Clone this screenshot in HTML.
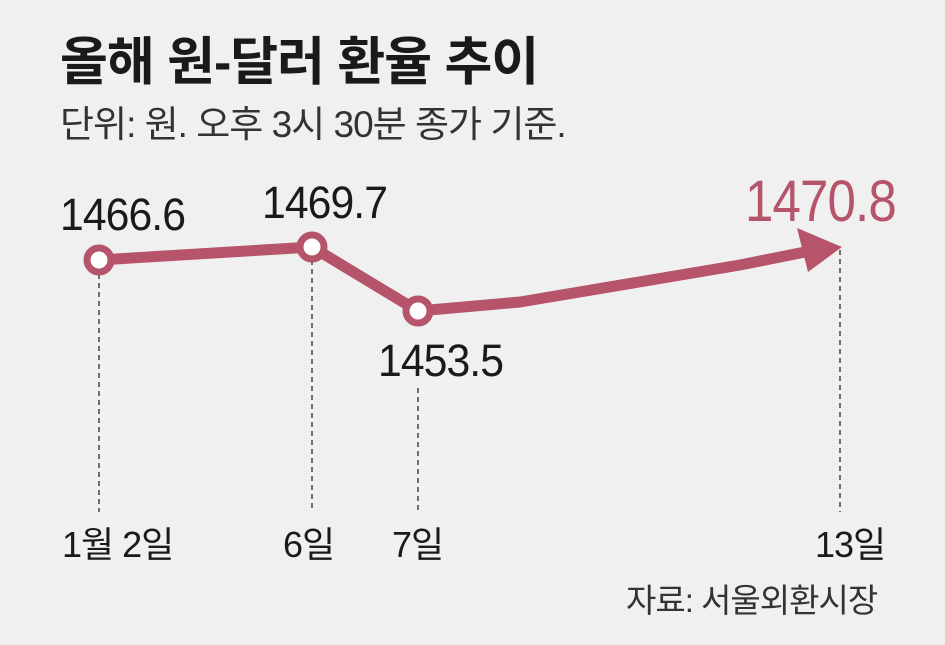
<!DOCTYPE html>
<html><head><meta charset="utf-8"><style>
body{margin:0;width:945px;height:645px;background:#f0f0f0;overflow:hidden;position:relative;font-family:"Liberation Sans","Noto Sans CJK KR",sans-serif;color:#1a1a1a}
.t{position:absolute;white-space:nowrap;line-height:1}
.n{font-size:45px;transform:scaleX(0.95);transform-origin:left top;letter-spacing:-1px}
</style></head><body>
<div class="t" style="left:60px;top:37px;font-size:52px;font-weight:bold;letter-spacing:-1px">올해 원-달러 환율 추이</div>
<div class="t" style="left:60px;top:106px;font-size:37px;color:#333;letter-spacing:-1px">단위: 원. 오후 3시 30분 종가 기준.</div>
<svg width="945" height="645" style="position:absolute;left:0;top:0">
<g stroke="#444" stroke-width="1.5" stroke-dasharray="5,4">
<line x1="99" y1="274" x2="99" y2="512"/>
<line x1="312" y1="260" x2="312" y2="512"/>
<line x1="418" y1="388" x2="418" y2="512"/>
<line x1="840" y1="250" x2="840" y2="512"/>
</g>
<polyline points="99,260 312,247 418,311 520,302 740,265 810,251" fill="none" stroke="#b5546a" stroke-width="11" stroke-linejoin="round"/>
<polygon points="797,228 842,247 808,272" fill="#b5546a"/>
<g fill="#fff" stroke="#b5546a" stroke-width="7">
<circle cx="99" cy="260" r="12"/><circle cx="312" cy="247" r="12"/><circle cx="418" cy="311" r="12"/>
</g>
</svg>
<div class="t n" style="left:60px;top:192px">1466.6</div>
<div class="t n" style="left:262px;top:180px">1469.7</div>
<div class="t n" style="left:378px;top:338px">1453.5</div>
<div class="t n" style="left:745px;top:173px;font-size:58px;color:#b5546a;transform:scaleX(0.88)">1470.8</div>
<div class="t" style="left:62px;top:527px;font-size:36px;letter-spacing:-1px">1월 2일</div>
<div class="t" style="left:283px;top:527px;font-size:36px;letter-spacing:-1px">6일</div>
<div class="t" style="left:392px;top:527px;font-size:36px;letter-spacing:-1px">7일</div>
<div class="t" style="left:815px;top:527px;font-size:36px;letter-spacing:-1px">13일</div>
<div class="t" style="left:626px;top:584px;font-size:33px;color:#333;letter-spacing:-1px">자료: 서울외환시장</div>
</body></html>
